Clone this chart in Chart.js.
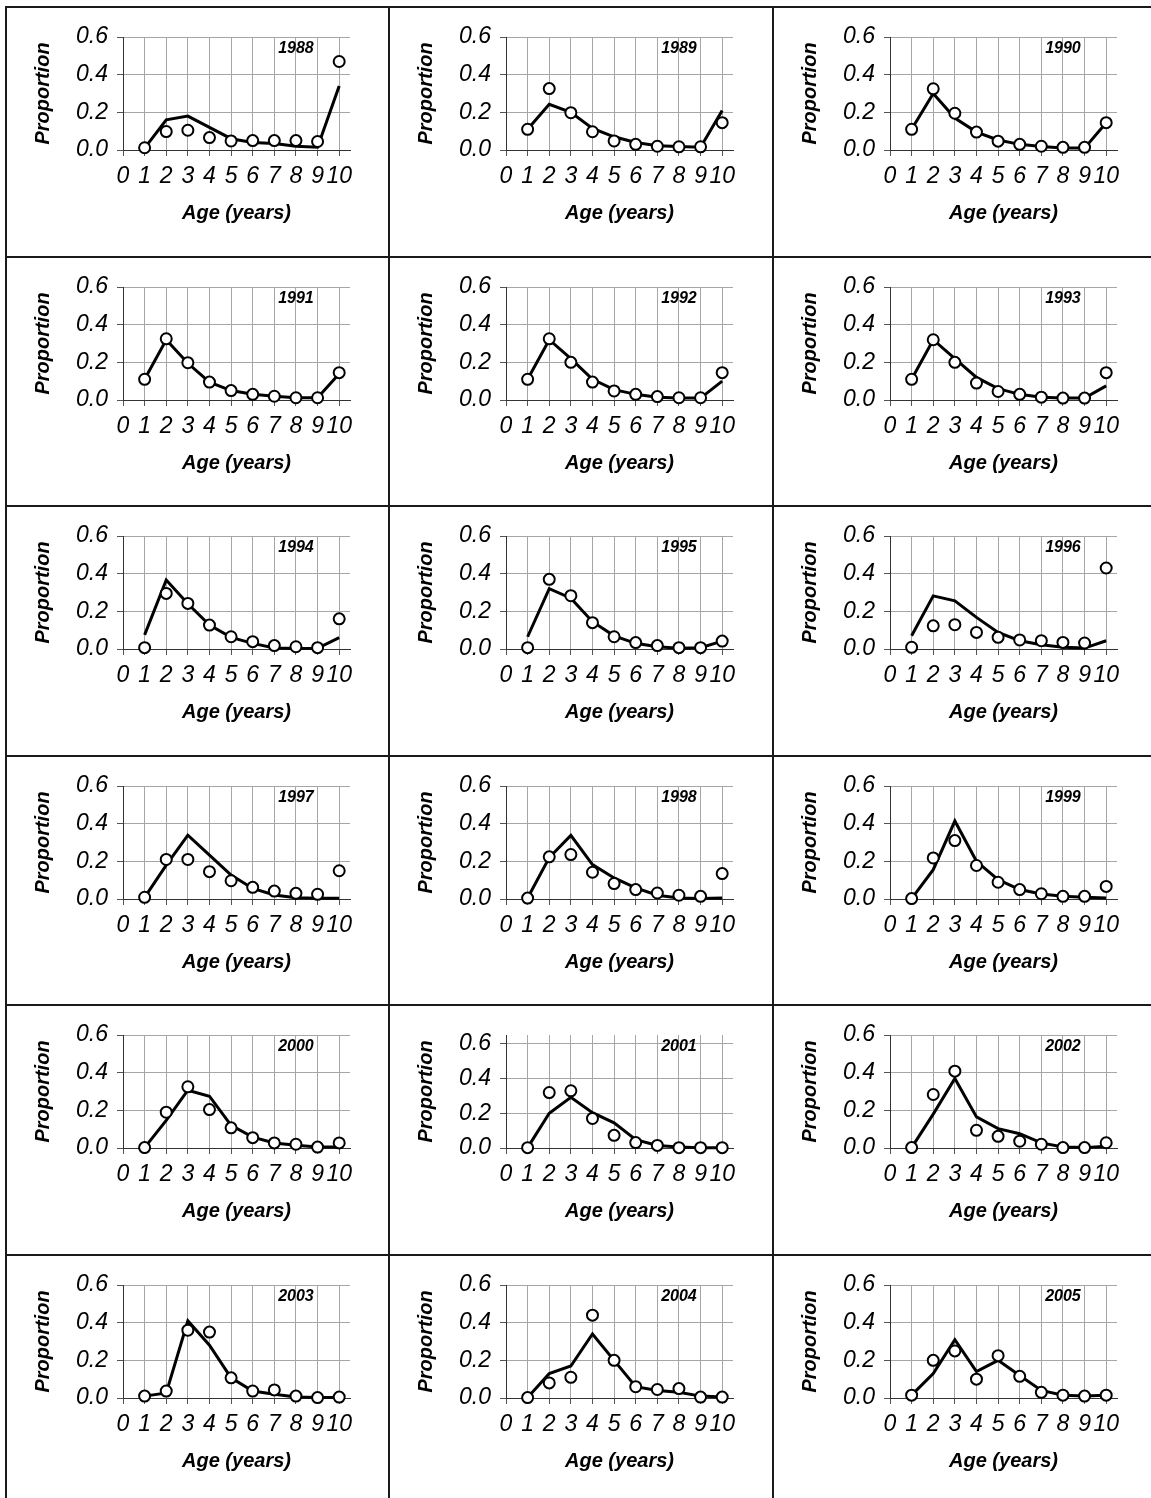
<!DOCTYPE html>
<html>
<head>
<meta charset="utf-8">
<title>Proportion at age, 1988-2005</title>
<script src="https://cdn.jsdelivr.net/npm/chart.js@4.4.0/dist/chart.umd.min.js"></script>
<style>
  body { margin: 0; background: #fff; }
  #page { position: relative; width: 1151px; height: 1498px; overflow: hidden; background: #fff; }
  .cell { position: absolute; }
  .rule { position: absolute; background: #1a1a1a; }
</style>
</head>
<body>
<div id="page"></div>
<script>
// ages on the x axis
const ages = [1, 2, 3, 4, 5, 6, 7, 8, 9, 10];
const years = [1988, 1989, 1990, 1991, 1992, 1993, 1994, 1995, 1996,
               1997, 1998, 1999, 2000, 2001, 2002, 2003, 2004, 2005];

// observed proportions (circles) and model fit (line)
const obs1988 = [0.012, 0.098, 0.105, 0.066, 0.048, 0.05, 0.05, 0.05, 0.045, 0.47];
const fit1988 = [0.01, 0.16, 0.18, 0.12, 0.06, 0.04, 0.035, 0.02, 0.015, 0.34];
const obs1989 = [0.11, 0.326, 0.198, 0.097, 0.048, 0.03, 0.02, 0.017, 0.017, 0.145];
const fit1989 = [0.11, 0.243, 0.2, 0.115, 0.07, 0.04, 0.023, 0.018, 0.015, 0.21];
const obs1990 = [0.11, 0.325, 0.195, 0.095, 0.047, 0.03, 0.02, 0.014, 0.014, 0.145];
const fit1990 = [0.11, 0.3, 0.17, 0.095, 0.053, 0.03, 0.018, 0.01, 0.01, 0.145];
const obs1991 = [0.11, 0.325, 0.198, 0.095, 0.05, 0.03, 0.02, 0.012, 0.012, 0.145];
const fit1991 = [0.11, 0.32, 0.195, 0.095, 0.05, 0.03, 0.02, 0.012, 0.012, 0.14];
const obs1992 = [0.11, 0.325, 0.2, 0.095, 0.048, 0.03, 0.018, 0.012, 0.012, 0.145];
const fit1992 = [0.11, 0.32, 0.22, 0.11, 0.055, 0.03, 0.015, 0.01, 0.01, 0.1];
const obs1993 = [0.11, 0.32, 0.2, 0.09, 0.045, 0.03, 0.015, 0.01, 0.01, 0.145];
const fit1993 = [0.11, 0.32, 0.22, 0.12, 0.06, 0.03, 0.015, 0.01, 0.01, 0.075];
const obs1994 = [0.007, 0.295, 0.242, 0.127, 0.065, 0.039, 0.018, 0.012, 0.007, 0.16];
const fit1994 = [0.075, 0.366, 0.24, 0.127, 0.062, 0.03, 0.005, 0.002, 0.004, 0.06];
const obs1995 = [0.007, 0.37, 0.283, 0.14, 0.065, 0.034, 0.018, 0.007, 0.007, 0.042];
const fit1995 = [0.065, 0.32, 0.27, 0.145, 0.07, 0.03, 0.012, 0.004, 0.007, 0.042];
const obs1996 = [0.009, 0.123, 0.129, 0.088, 0.062, 0.048, 0.044, 0.035, 0.032, 0.43];
const fit1996 = [0.07, 0.282, 0.256, 0.168, 0.088, 0.044, 0.023, 0.009, 0.005, 0.044];
const obs1997 = [0.009, 0.21, 0.21, 0.145, 0.097, 0.062, 0.042, 0.03, 0.025, 0.15];
const fit1997 = [0.009, 0.18, 0.339, 0.233, 0.127, 0.056, 0.021, 0.007, 0.004, 0.004];
const obs1998 = [0.005, 0.224, 0.236, 0.142, 0.082, 0.05, 0.032, 0.02, 0.014, 0.135];
const fit1998 = [0.005, 0.22, 0.338, 0.183, 0.112, 0.059, 0.02, 0.005, 0.002, 0.005];
const obs1999 = [0.002, 0.218, 0.31, 0.178, 0.089, 0.05, 0.028, 0.014, 0.014, 0.067];
const fit1999 = [0.002, 0.156, 0.414, 0.2, 0.103, 0.05, 0.027, 0.014, 0.009, 0.005];
const obs2000 = [0.002, 0.19, 0.325, 0.204, 0.107, 0.055, 0.027, 0.02, 0.005, 0.027];
const fit2000 = [0.002, 0.147, 0.307, 0.275, 0.12, 0.058, 0.027, 0.014, 0.005, 0.005];
const obs2001 = [0.002, 0.319, 0.329, 0.17, 0.073, 0.031, 0.015, 0.002, 0.002, 0.002];
const fit2001 = [0.002, 0.2, 0.292, 0.203, 0.145, 0.048, 0.015, 0.006, 0.002, 0.002];
const obs2002 = [0.002, 0.284, 0.408, 0.094, 0.062, 0.036, 0.02, 0.002, 0.002, 0.028];
const fit2002 = [0.002, 0.18, 0.369, 0.165, 0.103, 0.076, 0.027, 0.005, 0.002, 0.009];
const obs2003 = [0.01, 0.037, 0.36, 0.35, 0.107, 0.037, 0.043, 0.01, 0.002, 0.005];
const fit2003 = [0.01, 0.027, 0.41, 0.28, 0.107, 0.037, 0.02, 0.005, 0.002, 0.002];
const obs2004 = [0.002, 0.08, 0.11, 0.44, 0.2, 0.06, 0.045, 0.05, 0.005, 0.005];
const fit2004 = [0.002, 0.13, 0.17, 0.34, 0.2, 0.06, 0.04, 0.03, 0.01, 0.005];
const obs2005 = [0.015, 0.2, 0.25, 0.1, 0.225, 0.115, 0.03, 0.015, 0.01, 0.015];
const fit2005 = [0.015, 0.13, 0.31, 0.14, 0.2, 0.12, 0.04, 0.015, 0.01, 0.015];

const observed = [obs1988, obs1989, obs1990, obs1991, obs1992, obs1993, obs1994, obs1995, obs1996,
                  obs1997, obs1998, obs1999, obs2000, obs2001, obs2002, obs2003, obs2004, obs2005];
const fitted = [fit1988, fit1989, fit1990, fit1991, fit1992, fit1993, fit1994, fit1995, fit1996,
                fit1997, fit1998, fit1999, fit2000, fit2001, fit2002, fit2003, fit2004, fit2005];

// y axis top; 2001 panel was drawn with a slightly taller axis
const yAxisMax = years.map(y => (y === 2001 ? 0.65 : 0.6));

Chart.defaults.font.family = '"Liberation Sans", Arial, sans-serif';
Chart.defaults.color = '#000';

// table geometry
const colLeft = [6, 389, 773];
const rowTop = [7, 256.5, 505.5, 755.5, 1005, 1254.5];
const cellW = 383;
const cellH = 249;
const plotBottom = 143;

const page = document.getElementById('page');

// year tag in the upper right of each plot
const yearLabel = {
  id: 'yearLabel',
  afterDatasetsDraw(chart, args, opts) {
    const { ctx, chartArea, scales } = chart;
    ctx.save();
    ctx.font = 'italic bold 16px "Liberation Sans", Arial, sans-serif';
    ctx.fillStyle = '#000';
    ctx.textAlign = 'center';
    ctx.textBaseline = 'middle';
    ctx.fillText(opts.text, scales.x.getPixelForValue(8), chartArea.top + 12);
    ctx.restore();
  }
};

function makePanel(idx) {
  const r = Math.floor(idx / 3);
  const c = idx % 3;
  const holder = document.createElement('div');
  holder.className = 'cell';
  holder.style.left = colLeft[c] + 'px';
  holder.style.top = Math.round(rowTop[r]) + 'px';
  const canvas = document.createElement('canvas');
  canvas.width = cellW;
  canvas.height = cellH;
  holder.appendChild(canvas);
  page.appendChild(holder);

  new Chart(canvas, {
    type: 'line',
    data: {
      datasets: [
        {
          label: 'Observed',
          data: ages.map((a, i) => ({ x: a, y: observed[idx][i] })),
          showLine: false,
          pointRadius: 5.5,
          pointBorderWidth: 2,
          pointBackgroundColor: '#fff',
          pointBorderColor: '#000',
          clip: false
        },
        {
          label: 'Predicted',
          data: ages.map((a, i) => ({ x: a, y: fitted[idx][i] })),
          borderColor: '#000',
          borderWidth: 3,
          pointRadius: 0,
          tension: 0,
          fill: false,
          clip: false
        }
      ]
    },
    options: {
      responsive: false,
      animation: false,
      devicePixelRatio: 1,
      events: [],
      layout: { padding: { top: 30, right: cellW - 344, bottom: 0, left: 0 } },
      plugins: {
        legend: { display: false },
        tooltip: { enabled: false },
        yearLabel: { text: String(years[idx]) }
      },
      scales: {
        x: {
          type: 'linear',
          min: 0,
          max: 10.5,
          afterFit: s => { s.height = cellH - plotBottom; },
          border: { color: '#333', width: 1 },
          grid: { color: '#a6a6a6', tickLength: 6, tickColor: '#555' },
          ticks: {
            stepSize: 1,
            includeBounds: false,
            autoSkip: false,
            maxRotation: 0,
            minRotation: 0,
            padding: 7,
            color: '#000',
            font: { size: 23, style: 'italic' }
          },
          title: {
            display: true,
            text: 'Age (years)',
            color: '#000',
            font: { size: 20, style: 'italic', weight: 'bold' },
            padding: { top: 0, bottom: 31 }
          }
        },
        y: {
          min: 0,
          max: yAxisMax[idx],
          afterFit: s => { s.width = 117; },
          border: { color: '#333', width: 1 },
          grid: { color: '#a6a6a6', tickLength: 6, tickColor: '#555' },
          ticks: {
            stepSize: 0.2,
            includeBounds: false,
            padding: 9,
            color: '#000',
            font: { size: 23, style: 'italic' },
            callback: v => v.toFixed(1)
          },
          title: {
            display: true,
            text: 'Proportion',
            color: '#000',
            font: { size: 20, style: 'italic', weight: 'bold' },
            padding: { top: 25, bottom: 0 }
          }
        }
      }
    },
    plugins: [yearLabel]
  });
}

years.forEach((y, i) => makePanel(i));

// table rules
rowTop.forEach(t => {
  const d = document.createElement('div');
  d.className = 'rule';
  d.style.left = '5px';
  d.style.top = Math.round(t - 1) + 'px';
  d.style.width = '1146px';
  d.style.height = '2px';
  page.appendChild(d);
});
colLeft.forEach(l => {
  const d = document.createElement('div');
  d.className = 'rule';
  d.style.left = (l - 1) + 'px';
  d.style.top = '6px';
  d.style.width = '2px';
  d.style.height = '1492px';
  page.appendChild(d);
});
</script>
</body>
</html>
